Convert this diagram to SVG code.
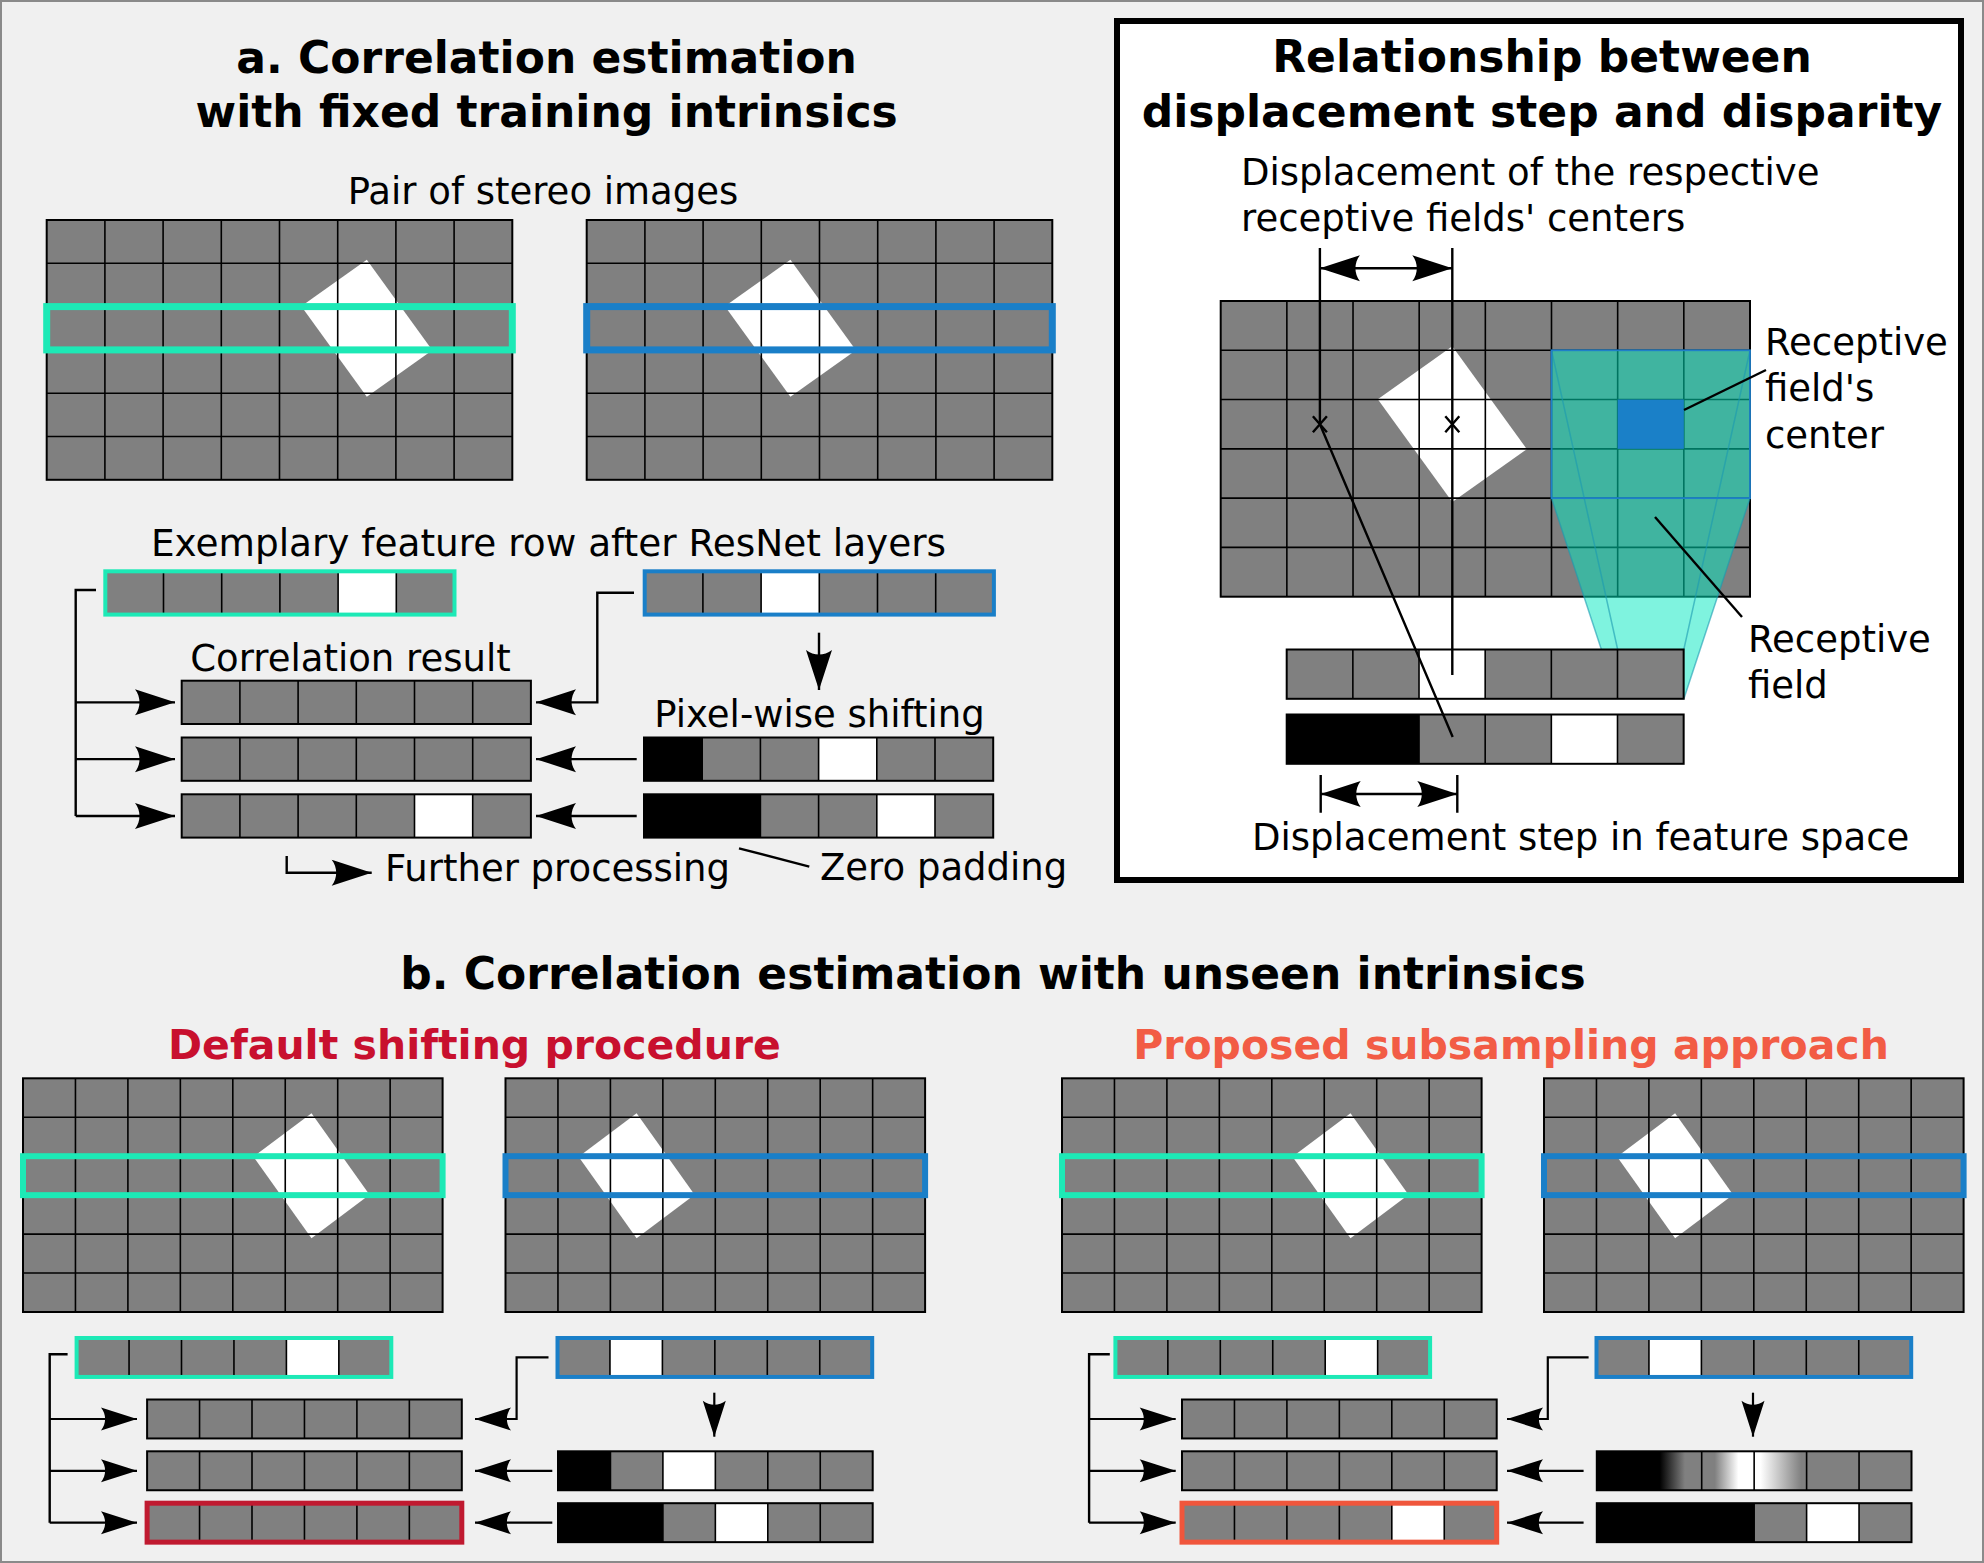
<svg xmlns="http://www.w3.org/2000/svg" width="1984" height="1563" viewBox="0 0 1984 1563">
<style>
.g{fill:#808080}
.w{fill:#fff}
.k{fill:#000}
.ln{stroke:#000;stroke-width:1.6;fill:none}
.bd{fill:none;stroke:#000;stroke-width:2}
.cy{fill:none;stroke:#1de9b6}
.bl{fill:none;stroke:#1a7fc8}
.c{stroke:#000;stroke-width:2.4;fill:none}
.ca{marker-end:url(#ah)}
.cb{stroke:#000;stroke-width:2.2;fill:none;marker-end:url(#ahs)}
.t{font-family:"DejaVu Sans",sans-serif;font-size:37px;fill:#000}
.h{font-family:"DejaVu Sans",sans-serif;font-size:44px;font-weight:bold;fill:#000}
.s{font-family:"DejaVu Sans",sans-serif;font-size:41px;font-weight:bold}
</style>
<defs>
<marker id="ah" markerUnits="userSpaceOnUse" orient="auto-start-reverse" overflow="visible" markerWidth="1" markerHeight="1" refX="0" refY="0">
<path d="M0,0 L-40,-13 C-34,-5 -34,5 -40,13 Z" fill="#000"/>
</marker>
<marker id="ahs" markerUnits="userSpaceOnUse" orient="auto-start-reverse" overflow="visible" markerWidth="1" markerHeight="1" refX="0" refY="0">
<path d="M0,0 L-36,-11.5 C-30.5,-4.5 -30.5,4.5 -36,11.5 Z" fill="#000"/>
</marker>
<linearGradient id="grad" gradientUnits="userSpaceOnUse" x1="1596.8" y1="0" x2="1911.5" y2="0">
<stop offset="0" stop-color="#000"/>
<stop offset="0.2" stop-color="#000"/>
<stop offset="0.28" stop-color="#808080"/>
<stop offset="0.375" stop-color="#808080"/>
<stop offset="0.45" stop-color="#fff"/>
<stop offset="0.52" stop-color="#fff"/>
<stop offset="0.65" stop-color="#808080"/>
<stop offset="1" stop-color="#808080"/>
</linearGradient>
<g id="gridA">
<path class="ln" d="M58.2,0V259.8M116.4,0V259.8M174.6,0V259.8M232.8,0V259.8M291,0V259.8M349.2,0V259.8M407.4,0V259.8M0,43.3H465.6M0,86.6H465.6M0,129.9H465.6M0,173.2H465.6M0,216.5H465.6"/>
<rect class="bd" width="465.6" height="259.8"/>
</g>
<g id="gridB">
<path class="ln" d="M52.45,0V233.7M104.9,0V233.7M157.35,0V233.7M209.8,0V233.7M262.25,0V233.7M314.7,0V233.7M367.15,0V233.7M0,38.95H419.6M0,77.9H419.6M0,116.85H419.6M0,155.8H419.6M0,194.75H419.6"/>
<rect class="bd" width="419.6" height="233.7"/>
</g>
<g id="gridR">
<path class="ln" d="M66.16,0V295.7M132.32,0V295.7M198.48,0V295.7M264.64,0V295.7M330.8,0V295.7M396.96,0V295.7M463.12,0V295.7M0,49.28H529.3M0,98.56H529.3M0,147.84H529.3M0,197.12H529.3M0,246.4H529.3"/>
<rect class="bd" width="529.3" height="295.7"/>
</g>
<g id="rowA">
<path class="ln" d="M58.2,0V43.3M116.4,0V43.3M174.6,0V43.3M232.8,0V43.3M291,0V43.3"/>
<rect class="bd" width="349.2" height="43.3"/>
</g>
<g id="rowB">
<path class="ln" d="M52.45,0V38.95M104.9,0V38.95M157.35,0V38.95M209.8,0V38.95M262.25,0V38.95"/>
<rect class="bd" width="314.7" height="38.95"/>
</g>
<g id="rowR">
<path class="ln" d="M66.16,0V49.3M132.32,0V49.3M198.48,0V49.3M264.64,0V49.3M330.8,0V49.3"/>
<rect class="bd" width="396.96" height="49.3"/>
</g>
</defs>

<rect x="1" y="1" width="1982" height="1561" fill="#f0f0f0" stroke="#8a8a8a" stroke-width="2"/>

<!-- ===== Section a ===== -->
<g id="title-a">
<text class="h" x="546.6" y="73" text-anchor="middle">a. Correlation estimation</text>
<text class="h" x="546.6" y="127" text-anchor="middle">with fixed training intrinsics</text>
</g>
<text id="label-pair" class="t" x="543" y="204" text-anchor="middle">Pair of stereo images</text>

<g id="img-a-left">
<rect class="g" x="46.7" y="220" width="465.6" height="259.8"/>
<polygon class="w" points="366.8,259.75 432.3,350.25 366.8,396.75 301.3,306.25"/>
<use href="#gridA" x="46.7" y="220"/>
<rect class="cy" stroke-width="7" x="46.7" y="306.6" width="465.6" height="43.3"/>
</g>
<g id="img-a-right">
<rect class="g" x="586.7" y="220" width="465.6" height="259.8"/>
<polygon class="w" points="790.4,259.75 855.9,350.25 790.4,396.75 724.9,306.25"/>
<use href="#gridA" x="586.7" y="220"/>
<rect class="bl" stroke-width="7" x="586.7" y="306.6" width="465.6" height="43.3"/>
</g>

<text id="label-exemplary" class="t" x="548.5" y="556" text-anchor="middle" style="font-size:37.4px">Exemplary feature row after ResNet layers</text>

<g id="feat-a-left" transform="translate(105.3,571.3)">
<rect class="g" width="349.2" height="43.3"/>
<rect class="w" x="232.8" width="58.2" height="43.3"/>
<use href="#rowA"/>
<rect class="cy" stroke-width="4" width="349.2" height="43.3"/>
</g>
<g id="feat-a-right" transform="translate(644.7,571.3)">
<rect class="g" width="349.2" height="43.3"/>
<rect class="w" x="116.4" width="58.2" height="43.3"/>
<use href="#rowA"/>
<rect class="bl" stroke-width="4" width="349.2" height="43.3"/>
</g>

<text id="label-corr" class="t" x="350.5" y="670.7" text-anchor="middle">Correlation result</text>
<g id="corr-a-1" transform="translate(181.7,680.7)">
<rect class="g" width="349.2" height="43.3"/><use href="#rowA"/>
</g>
<g id="corr-a-2" transform="translate(181.7,737.5)">
<rect class="g" width="349.2" height="43.3"/><use href="#rowA"/>
</g>
<g id="corr-a-3" transform="translate(181.7,794.3)">
<rect class="g" width="349.2" height="43.3"/>
<rect class="w" x="232.8" width="58.2" height="43.3"/>
<use href="#rowA"/>
</g>

<text id="label-shift" class="t" x="819.5" y="727" text-anchor="middle">Pixel-wise shifting</text>
<g id="shift-a-1" transform="translate(644,737.5)">
<rect class="g" width="349.2" height="43.3"/>
<rect class="k" width="58.2" height="43.3"/>
<rect class="w" x="174.6" width="58.2" height="43.3"/>
<use href="#rowA"/>
</g>
<g id="shift-a-2" transform="translate(644,794.3)">
<rect class="g" width="349.2" height="43.3"/>
<rect class="k" width="116.4" height="43.3"/>
<rect class="w" x="232.8" width="58.2" height="43.3"/>
<use href="#rowA"/>
</g>

<text id="label-further" class="t" x="385" y="881">Further processing</text>
<text id="label-zero" class="t" x="820" y="880">Zero padding</text>

<!-- ===== Relationship panel ===== -->
<rect id="rel-box" x="1117" y="21" width="844" height="859" fill="#fff" stroke="#000" stroke-width="6"/>
<g id="title-rel">
<text class="h" x="1542" y="72" text-anchor="middle">Relationship between</text>
<text class="h" x="1542" y="127" text-anchor="middle">displacement step and disparity</text>
</g>
<g id="label-disp-centers">
<text class="t" x="1241" y="185">Displacement of the respective</text>
<text class="t" x="1241" y="231">receptive fields' centers</text>
</g>

<g id="img-rel">
<rect class="g" x="1220.7" y="301" width="529.3" height="295.7"/>
<polygon class="w" points="1452.3,346.3 1526.8,449.2 1452.3,502.1 1377.8,399.2"/>
<use href="#gridR" x="1220.7" y="301"/>
</g>

<g id="receptive-field">
<polygon points="1551.5,350.28 1750,350.28 1750,498.12 1683.82,699 1617.66,699 1551.5,498.12" fill="#00e8c0" fill-opacity="0.5"/>
<path d="M1551.5,350.28L1617.66,649.5M1750,350.28L1683.82,649.5M1551.5,498.12L1617.66,699M1750,498.12L1683.82,699" stroke="#1a9ab0" stroke-opacity="0.6" stroke-width="1.5" fill="none"/>
<rect x="1551.5" y="350.28" width="198.5" height="147.84" fill="none" stroke="#1f7fc9" stroke-width="1.8"/>
<rect x="1617.66" y="399.56" width="66.16" height="49.28" fill="#1a80c8"/>
</g>

<g id="feat-rel-1" transform="translate(1286.7,649.5)">
<rect class="g" width="396.96" height="49.3"/>
<rect class="w" x="132.32" width="66.16" height="49.3"/>
<use href="#rowR"/>
</g>
<g id="feat-rel-2" transform="translate(1286.7,714.5)">
<rect class="g" width="396.96" height="49.3"/>
<rect class="k" width="132.32" height="49.3"/>
<rect class="w" x="264.64" width="66.16" height="49.3"/>
<use href="#rowR"/>
</g>

<g id="label-rf-center">
<text class="t" x="1765" y="355">Receptive</text>
<text class="t" x="1765" y="401">field's</text>
<text class="t" x="1765" y="448">center</text>
</g>
<g id="label-rf">
<text class="t" x="1748" y="652">Receptive</text>
<text class="t" x="1748" y="698">field</text>
</g>
<text id="label-disp-step" class="t" x="1252" y="850">Displacement step in feature space</text>

<!-- ===== Section b ===== -->
<text id="title-b" class="h" x="993" y="989" text-anchor="middle">b. Correlation estimation with unseen intrinsics</text>
<text id="title-default" class="s" x="474.5" y="1059" text-anchor="middle" fill="#c8102e">Default shifting procedure</text>
<text id="title-proposed" class="s" x="1511" y="1059" text-anchor="middle" fill="#f25c45">Proposed subsampling approach</text>

<g id="img-b1">
<rect class="g" x="23" y="1078.3" width="419.6" height="233.7"/>
<polygon class="w" points="311.5,1113.2 369.5,1194.7 311.5,1238.2 253.5,1156.7"/>
<use href="#gridB" x="23" y="1078.3"/>
<rect class="cy" stroke-width="6" x="23" y="1156.2" width="419.6" height="38.95"/>
</g>
<g id="img-b2">
<rect class="g" x="505.5" y="1078.3" width="419.6" height="233.7"/>
<polygon class="w" points="636.6,1113.2 694.6,1194.7 636.6,1238.2 578.6,1156.7"/>
<use href="#gridB" x="505.5" y="1078.3"/>
<rect class="bl" stroke-width="6" x="505.5" y="1156.2" width="419.6" height="38.95"/>
</g>
<g id="img-b3">
<rect class="g" x="1062" y="1078.3" width="419.6" height="233.7"/>
<polygon class="w" points="1350.5,1113.2 1408.5,1194.7 1350.5,1238.2 1292.5,1156.7"/>
<use href="#gridB" x="1062" y="1078.3"/>
<rect class="cy" stroke-width="6" x="1062" y="1156.2" width="419.6" height="38.95"/>
</g>
<g id="img-b4">
<rect class="g" x="1544" y="1078.3" width="419.6" height="233.7"/>
<polygon class="w" points="1675.1,1113.2 1733.1,1194.7 1675.1,1238.2 1617.1,1156.7"/>
<use href="#gridB" x="1544" y="1078.3"/>
<rect class="bl" stroke-width="6" x="1544" y="1156.2" width="419.6" height="38.95"/>
</g>

<!-- b left rows -->
<g id="feat-b1" transform="translate(76.6,1338)">
<rect class="g" width="314.7" height="38.95"/>
<rect class="w" x="209.8" width="52.45" height="38.95"/>
<use href="#rowB"/>
<rect class="cy" stroke-width="4" width="314.7" height="38.95"/>
</g>
<g id="feat-b2" transform="translate(557.5,1338)">
<rect class="g" width="314.7" height="38.95"/>
<rect class="w" x="52.45" width="52.45" height="38.95"/>
<use href="#rowB"/>
<rect class="bl" stroke-width="4" width="314.7" height="38.95"/>
</g>
<g id="corr-b1-1" transform="translate(147.1,1399.5)">
<rect class="g" width="314.7" height="38.95"/><use href="#rowB"/>
</g>
<g id="corr-b1-2" transform="translate(147.1,1451.3)">
<rect class="g" width="314.7" height="38.95"/><use href="#rowB"/>
</g>
<g id="corr-b1-3" transform="translate(147.1,1503.2)">
<rect class="g" width="314.7" height="38.95"/><use href="#rowB"/>
<rect fill="none" stroke="#c01a30" stroke-width="5" width="314.7" height="38.95"/>
</g>
<g id="shift-b1-1" transform="translate(558,1451.3)">
<rect class="g" width="314.7" height="38.95"/>
<rect class="k" width="52.45" height="38.95"/>
<rect class="w" x="104.9" width="52.45" height="38.95"/>
<use href="#rowB"/>
</g>
<g id="shift-b1-2" transform="translate(558,1503.2)">
<rect class="g" width="314.7" height="38.95"/>
<rect class="k" width="104.9" height="38.95"/>
<rect class="w" x="157.35" width="52.45" height="38.95"/>
<use href="#rowB"/>
</g>

<!-- b right rows -->
<g id="feat-b3" transform="translate(1115.4,1338)">
<rect class="g" width="314.7" height="38.95"/>
<rect class="w" x="209.8" width="52.45" height="38.95"/>
<use href="#rowB"/>
<rect class="cy" stroke-width="4" width="314.7" height="38.95"/>
</g>
<g id="feat-b4" transform="translate(1596.5,1338)">
<rect class="g" width="314.7" height="38.95"/>
<rect class="w" x="52.45" width="52.45" height="38.95"/>
<use href="#rowB"/>
<rect class="bl" stroke-width="4" width="314.7" height="38.95"/>
</g>
<g id="corr-b2-1" transform="translate(1182,1399.5)">
<rect class="g" width="314.7" height="38.95"/><use href="#rowB"/>
</g>
<g id="corr-b2-2" transform="translate(1182,1451.3)">
<rect class="g" width="314.7" height="38.95"/><use href="#rowB"/>
</g>
<g id="corr-b2-3" transform="translate(1182,1503.2)">
<rect class="g" width="314.7" height="38.95"/>
<rect class="w" x="209.8" width="52.45" height="38.95"/>
<use href="#rowB"/>
<rect fill="none" stroke="#f0563c" stroke-width="5" width="314.7" height="38.95"/>
</g>
<g id="shift-b2-1">
<rect x="1596.8" y="1451.3" width="314.7" height="38.95" fill="url(#grad)"/>
<use href="#rowB" x="1596.8" y="1451.3"/>
</g>
<g id="shift-b2-2" transform="translate(1596.8,1503.2)">
<rect class="g" width="314.7" height="38.95"/>
<rect class="k" width="157.35" height="38.95"/>
<rect class="w" x="209.8" width="52.45" height="38.95"/>
<use href="#rowB"/>
</g>

<!-- ===== Connectors ===== -->
<g id="connectors">
<!-- section a -->
<path class="c" d="M96,590H75.7V816"/>
<path class="c ca" d="M75.7,702.35H175"/>
<path class="c ca" d="M75.7,759.15H175"/>
<path class="c ca" d="M75.7,815.95H175"/>
<path class="c ca" d="M634,592.7H597.3V702.35H536"/>
<path class="c ca" d="M819,632.7V690"/>
<path class="c ca" d="M636.7,759.15H536"/>
<path class="c ca" d="M636.7,815.95H536"/>
<path class="c ca" d="M286.7,856V872.7H371.7"/>
<path class="c" d="M739,848.3L809.3,866.7"/>
<!-- relationship panel -->
<path class="c" d="M1319.9,248V424.2L1452.7,737"/>
<path class="c" d="M1452.3,248V675"/>
<path class="c" stroke-width="3" d="M1312.9,416.2L1326.9,432.2M1326.9,416.2L1312.9,432.2M1445.3,416.2L1459.3,432.2M1459.3,416.2L1445.3,432.2"/>
<path class="c" style="marker-start:url(#ah);marker-end:url(#ah)" d="M1319.9,268.3H1452.3"/>
<path class="c" d="M1320.7,775V812.7M1457.3,775V812.7"/>
<path class="c" style="marker-start:url(#ah);marker-end:url(#ah)" d="M1320.7,794H1457.3"/>
<path class="c" d="M1684,410L1766,370"/>
<path class="c" d="M1655,517L1742,617"/>
<!-- section b left -->
<path class="c" stroke-width="2.2" d="M67.6,1354.3H49.7V1522.7"/>
<path class="cb" d="M49.7,1419H137"/>
<path class="cb" d="M49.7,1470.8H137"/>
<path class="cb" d="M49.7,1522.7H137"/>
<path class="cb" d="M548.5,1357.3H516.6V1419H475"/>
<path class="cb" d="M714.3,1392.7V1436.7"/>
<path class="cb" d="M552.3,1470.8H475"/>
<path class="cb" d="M552.3,1522.7H475"/>
<!-- section b right -->
<path class="c" stroke-width="2.2" d="M1109.8,1354.3H1089.1V1522.7"/>
<path class="cb" d="M1089.1,1419H1175.7"/>
<path class="cb" d="M1089.1,1470.8H1175.7"/>
<path class="cb" d="M1089.1,1522.7H1175.7"/>
<path class="cb" d="M1588.6,1357.3H1547.8V1419H1507"/>
<path class="cb" d="M1753,1392.7V1436.7"/>
<path class="cb" d="M1583.6,1470.8H1507"/>
<path class="cb" d="M1583.6,1522.7H1507"/>
</g>
</svg>
